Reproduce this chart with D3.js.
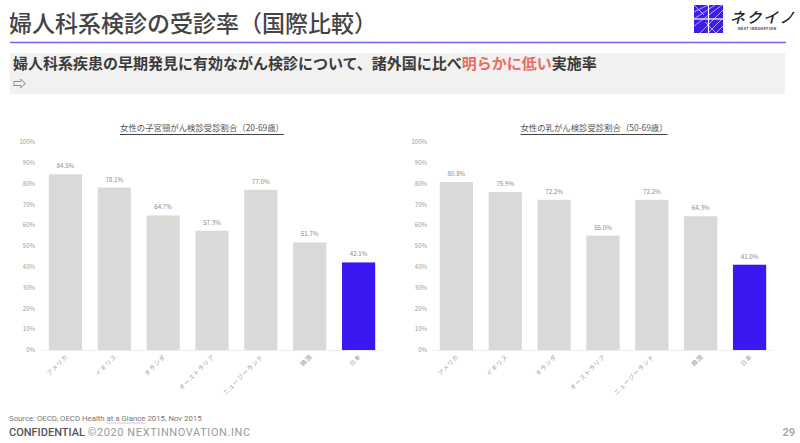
<!DOCTYPE html>
<html><head><meta charset="utf-8">
<script src="https://cdn.jsdelivr.net/npm/d3@7"></script>
<style>
body{margin:0;background:#fff;}
svg{display:block;font-family:"Noto Sans CJK JP","Noto Sans",sans-serif;}
</style></head>
<body><svg id="c" width="800" height="443"></svg>
<script>
const countries = ["アメリカ","イギリス","オランダ","オーストラリア","ニュージーランド","韓国","日本"];
const cervicalValues = [84.5, 78.1, 64.7, 57.3, 77.0, 51.7, 42.1];
const breastValues = [80.8, 75.9, 72.2, 55.0, 72.2, 64.3, 41.0];
const yTicks = [0,10,20,30,40,50,60,70,80,90,100];
const chartTitles = ["女性の子宮頸がん検診受診割合（20-69歳）","女性の乳がん検診受診割合（50-69歳）"];

const svg = d3.select("#c");
svg.append("rect").attr("width",800).attr("height",443).attr("fill","#fff");

// Header
svg.append("text").attr("x",9).attr("y",32).attr("font-size",23).attr("font-weight",500)
  .attr("fill","#444").text("婦人科系検診の受診率（国際比較）");
svg.append("line").attr("x1",10).attr("x2",786).attr("y1",42.5).attr("y2",42.5)
  .attr("stroke","#6f60f0").attr("stroke-width",1.5);

// Logo
const logo = svg.append("g");
logo.append("rect").attr("x",694).attr("y",5).attr("width",29).attr("height",28).attr("fill","#3c1cf0");
const lp = [[694,12,708,5],[694,19,715,5],[694,26,722,5],[700,33,723,10],[708,33,723,18],[716,33,723,26],[694,5,704,15],[705,22,716,33]];
lp.forEach(p=>logo.append("line").attr("x1",p[0]).attr("y1",p[1]).attr("x2",p[2]).attr("y2",p[3]).attr("stroke","#fff").attr("stroke-width",0.8).attr("opacity",0.8));
logo.append("line").attr("x1",708.5).attr("x2",708.5).attr("y1",5).attr("y2",33).attr("stroke","#fff").attr("stroke-width",1.2);
logo.append("line").attr("x1",694).attr("x2",723).attr("y1",19).attr("y2",19).attr("stroke","#fff").attr("stroke-width",1.2);
logo.append("text").attr("x",730).attr("y",23).attr("font-size",15).attr("font-weight",500)
  .attr("fill","#222").attr("letter-spacing",1.5).attr("font-style","italic").text("ネクイノ");
logo.append("text").attr("x",738).attr("y",30).attr("font-size",3.6).attr("font-weight",700)
  .attr("fill","#333").attr("letter-spacing",0.4).text("NEXT INNOVATION");

// Subtitle box
svg.append("rect").attr("x",10).attr("y",53).attr("width",775).attr("height",41).attr("fill","#f1f1f1");
const sub = svg.append("text").attr("x",13).attr("y",69).attr("font-size",15).attr("font-weight",700).attr("fill","#3a3a3a");
sub.append("tspan").text("婦人科系疾患の早期発見に有効ながん検診について、諸外国に比べ");
sub.append("tspan").attr("fill","#ee6a5c").text("明らかに低い");
sub.append("tspan").text("実施率");
svg.append("text").attr("x",13).attr("y",88).attr("font-size",13).attr("fill","#444").text("⇨");

// Charts
function drawChart(x0, x1, titleCx, values, title, axisLabelX) {
  const g = svg.append("g");
  const x = d3.scaleBand().domain(countries).range([x0, x1]).paddingInner(0.32).paddingOuter(0.16);
  const y = d3.scaleLinear().domain([0,100]).range([350,142]);
  const t = g.append("text").attr("x",titleCx).attr("y",131).attr("text-anchor","middle")
    .attr("font-size",8.4).attr("fill","#555").text(title);
  const bb = t.node().getBBox();
  g.append("line").attr("x1",bb.x).attr("x2",bb.x+bb.width).attr("y1",134.5).attr("y2",134.5)
    .attr("stroke","#444").attr("stroke-width",1);
  yTicks.forEach(v=>{
    g.append("text").attr("x",axisLabelX).attr("y",y(v)+2.2).attr("text-anchor","end")
      .attr("font-size",6).attr("fill","#999").text(v+"%");
  });
  g.append("line").attr("x1",x0).attr("x2",x1).attr("y1",350.5).attr("y2",350.5).attr("stroke","#eeeeee").attr("stroke-width",1);
  g.selectAll("rect.bar").data(countries).enter().append("rect")
    .attr("x",d=>x(d)).attr("width",x.bandwidth())
    .attr("y",(d,i)=>y(values[i])).attr("height",(d,i)=>350-y(values[i]))
    .attr("fill",(d,i)=>d==="日本"?"#3c17f2":"#d9d9d9");
  g.selectAll("text.val").data(countries).enter().append("text")
    .attr("x",d=>x(d)+x.bandwidth()/2).attr("y",(d,i)=>y(values[i])-6)
    .attr("text-anchor","middle").attr("font-size",6.2).attr("fill","#888")
    .text((d,i)=>values[i].toFixed(1)+"%");
  g.selectAll("text.cat").data(countries).enter().append("text")
    .attr("transform",d=>`translate(${x(d)+x.bandwidth()/2+3},${357}) rotate(-45)`)
    .attr("text-anchor","end").attr("font-size",6).attr("fill","#999")
    .attr("letter-spacing",0.8).text(d=>d);
}
drawChart(41, 383, 202, cervicalValues, chartTitles[0], 35);
drawChart(432, 774, 594, breastValues, chartTitles[1], 427);

// Footer
const src = svg.append("text").attr("x",9).attr("y",421).attr("font-size",7.8).attr("fill","#777").attr("font-family","Roboto, Arial, sans-serif");
src.append("tspan").text("Source: OECD, OECD Health ");
src.append("tspan").attr("id","glance").text("at a Glance");
src.append("tspan").text(" 2015, Nov 2015");
const gb = d3.select("#glance").node().getBBox();
svg.append("line").attr("x1",gb.x).attr("x2",gb.x+gb.width).attr("y1",423).attr("y2",423)
  .attr("stroke","#e06060").attr("stroke-width",0.8).attr("stroke-dasharray","1,1");
const conf = svg.append("text").attr("x",9).attr("y",436).attr("font-size",11).attr("font-family","Roboto, Arial, sans-serif");
conf.append("tspan").attr("fill","#555").attr("font-weight",500).text("CONFIDENTIAL ");
conf.append("tspan").attr("fill","#999").attr("letter-spacing",0.6).text("©2020 NEXTINNOVATION.INC");
svg.append("text").attr("x",795).attr("y",436).attr("text-anchor","end").attr("font-size",11)
  .attr("font-weight",700).attr("fill","#aaa").attr("font-family","Roboto, Arial, sans-serif").text("29");
</script></body></html>
